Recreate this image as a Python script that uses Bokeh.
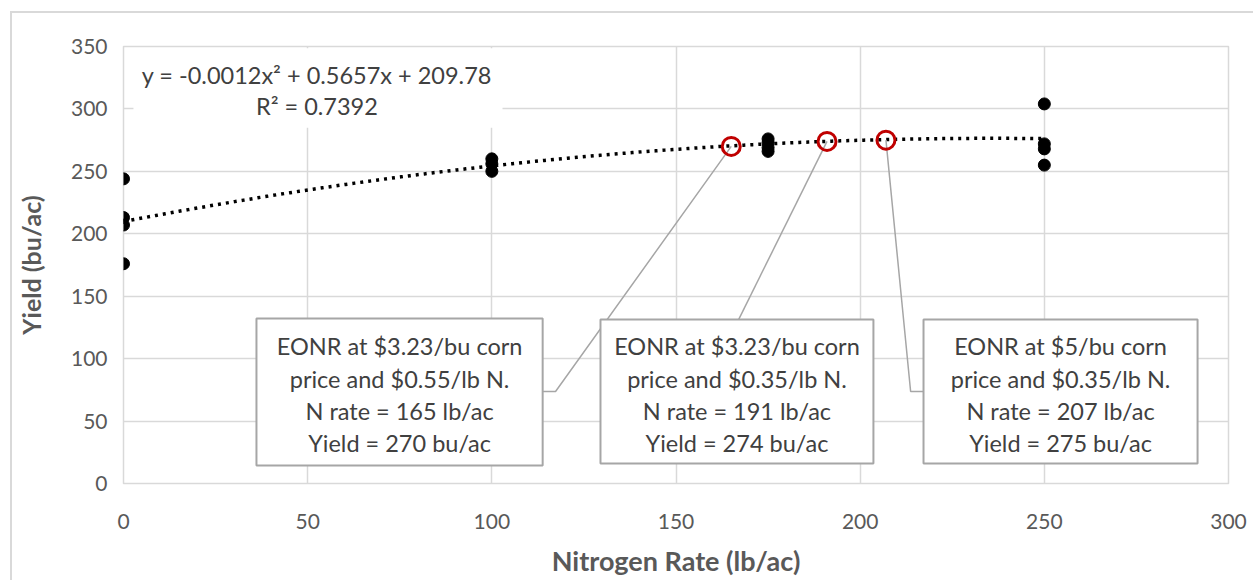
import numpy as np
from bokeh.plotting import figure
from bokeh.models import Range1d, FixedTicker
from bokeh.core.properties import value
from bokeh.embed import file_html
from bokeh.resources import INLINE

# ---------------- data ----------------
n_rate = [0, 0, 0, 0, 100, 100, 100, 175, 175, 175, 175, 250, 250, 250, 250]
yield_bu = [244, 213, 207, 176, 260, 256, 250, 276, 273, 269, 266, 304, 272, 268, 255]

eonr_rate = [165, 191, 207]
eonr_yield = [270, 274, 275]

trend_coef = [-0.0012, 0.5657, 209.78]   # quadratic trendline coefficients
trend_range = [0, 250]

x_ticks = [0, 50, 100, 150, 200, 250, 300]
y_ticks = [0, 50, 100, 150, 200, 250, 300, 350]

eq_lines = ["y = -0.0012x\u00b2 + 0.5657x + 209.78", "R\u00b2 = 0.7392"]

callout_text = [
    ["EONR at $3.23/bu corn", "price and $0.55/lb N.", "N rate = 165 lb/ac", "Yield = 270 bu/ac"],
    ["EONR at $3.23/bu corn", "price and $0.35/lb N.", "N rate = 191 lb/ac", "Yield = 274 bu/ac"],
    ["EONR at $5/bu corn", "price and $0.35/lb N.", "N rate = 207 lb/ac", "Yield = 275 bu/ac"],
]

# ---------------- layout (annotation placement) ----------------
box_left = [36.1, 129.5, 217.2]
box_right = [113.8, 203.6, 291.6]
box_top = [132.1, 131.3, 131.3]
box_bottom = [14.4, 16.0, 16.0]
line_y_offsets = [110.0, 84.0, 58.0, 32.5]
leader_x = [[113.8, 117.3], [167.0], [217.2, 213.7]]
leader_y = [[73.7, 73.7], [131.3], [73.7, 73.7]]

FONT = "Lato"
TXT = "#404040"
AX = "#595959"
GRID = "#d9d9d9"

chart_border = ("linear-gradient(#d9d9d9,#d9d9d9) 10px 11px / 2px 100% no-repeat, "
                "linear-gradient(#d9d9d9,#d9d9d9) 10px 11px / 100% 2px no-repeat, white")

p = figure(width=1253, height=580, output_backend="svg", toolbar_location=None,
           x_range=Range1d(0, 300), y_range=Range1d(0, 350),
           min_border_left=123, min_border_right=25, min_border_top=46, min_border_bottom=97,
           styles={"background": chart_border})
p.outline_line_color = GRID
p.outline_line_width = 1.5
p.background_fill_color = "white"
p.border_fill_color = None

for ax in (p.xaxis, p.yaxis):
    ax.axis_line_color = None
    ax.major_tick_line_color = None
    ax.minor_tick_line_color = None
    ax.major_label_text_font = FONT
    ax.major_label_text_font_size = "21px"
    ax.major_label_text_color = AX
    ax.axis_label_text_font = FONT
    ax.axis_label_text_font_style = "bold"
    ax.axis_label_text_color = AX

p.xaxis.axis_label_text_font_size = "27px"
p.yaxis.axis_label_text_font_size = "25px"
p.xaxis.ticker = FixedTicker(ticks=x_ticks)
p.yaxis.ticker = FixedTicker(ticks=y_ticks)
p.xaxis.axis_label = "Nitrogen Rate (lb/ac)"
p.yaxis.axis_label = "Yield (bu/ac)"
p.xaxis.major_label_standoff = 24
p.yaxis.major_label_standoff = 10
p.xaxis.axis_label_standoff = 12
p.yaxis.axis_label_standoff = 22

p.xgrid.ticker = FixedTicker(ticks=x_ticks)
p.ygrid.ticker = FixedTicker(ticks=y_ticks)
p.grid.grid_line_color = GRID
p.grid.grid_line_width = 1.5

# white background behind equation
p.quad(left=[2.7], right=[102.9], top=[348.5], bottom=[285.0],
       fill_color="white", line_color=None)

# trendline from stated coefficients
tx = np.linspace(trend_range[0], trend_range[1], 200)
ty = np.polyval(trend_coef, tx)
p.line(tx, ty, line_color="black", line_width=3.5, line_dash="3 5")

# data points
p.scatter(n_rate, yield_bu, size=12, color="black")

# leader lines
for i in range(3):
    xs = leader_x[i] + [eonr_rate[i]]
    ys = leader_y[i] + [eonr_yield[i]]
    p.line(xs, ys, line_color="#a6a6a6", line_width=1.5)

# EONR circles
p.scatter(eonr_rate, eonr_yield, size=18, fill_color="white", fill_alpha=0,
          line_color="#c00000", line_width=3)

# callout boxes
p.quad(left=box_left, right=box_right, top=box_top, bottom=box_bottom,
       fill_color="white", line_color="#a6a6a6", line_width=2)

tx_l, ty_l, tt = [], [], []
for i in range(3):
    cx = (box_left[i] + box_right[i]) / 2
    for j, s in enumerate(callout_text[i]):
        tx_l.append(cx)
        ty_l.append(line_y_offsets[j])
        tt.append(s)
p.text(x=tx_l, y=ty_l, text=tt, text_align="center", text_baseline="middle",
       text_font=value(FONT), text_font_size="23.5px", text_color=TXT)

# equation
p.text(x=[52.5, 52.5], y=[326.8, 302.0], text=eq_lines, text_align="center",
       text_baseline="middle", text_font=value(FONT), text_font_size="23.5px", text_color=TXT)

open("out.html", "w").write(file_html(p, INLINE))
